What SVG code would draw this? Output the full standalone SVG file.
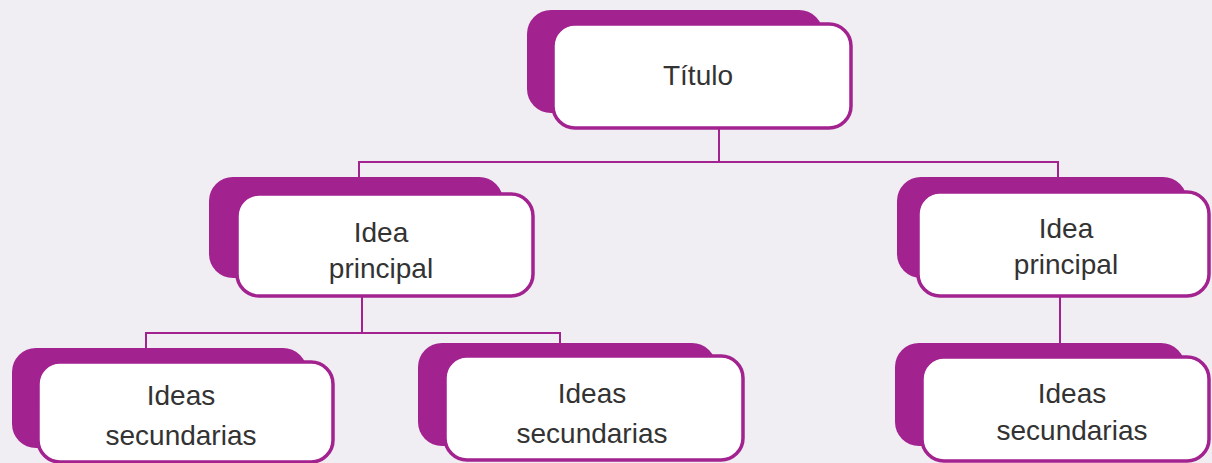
<svg xmlns="http://www.w3.org/2000/svg" width="1212" height="463" viewBox="0 0 1212 463">
<style>
.bg{fill:#F1EEF3}
.back{fill:#A2228F}
.front{fill:#FFFFFF;stroke:#A2228F;stroke-width:3.5}
.conn{fill:none;stroke:#A2228F;stroke-width:2}
text{font-family:"Liberation Sans",Arial,sans-serif;font-size:28px;fill:#333333;text-anchor:middle}
</style>
<rect class="bg" x="0" y="0" width="1212" height="463"/>
<g id="connectors">
<path class="conn" d="M719,128 V162 M359,178 V162 H1058 V178"/>
<path class="conn" d="M362,297 V333 M146,348 V333 H560 V344"/>
<path class="conn" d="M1060,297 V344"/>
</g>
<g id="titulo">
<rect class="back" x="527" y="10" width="296" height="103" rx="24"/>
<rect class="front" x="553" y="24" width="298" height="104" rx="22"/>
<text x="698" y="85">Título</text>
</g>
<g id="idea-principal-1">
<rect class="back" x="209" y="177" width="294" height="101" rx="24"/>
<rect class="front" x="237" y="194" width="296" height="102" rx="22"/>
<text x="381" y="242">Idea</text>
<text x="381" y="278">principal</text>
</g>
<g id="idea-principal-2">
<rect class="back" x="897" y="177" width="290" height="101" rx="24"/>
<rect class="front" x="918" y="192" width="291" height="104" rx="22"/>
<text x="1066" y="238">Idea</text>
<text x="1066" y="274">principal</text>
</g>
<g id="ideas-secundarias-1">
<rect class="back" x="12" y="348" width="295" height="100" rx="24"/>
<rect class="front" x="38" y="362" width="295" height="100" rx="22"/>
<text x="181" y="405">Ideas</text>
<text x="181" y="445">secundarias</text>
</g>
<g id="ideas-secundarias-2">
<rect class="back" x="418" y="343" width="298" height="103" rx="24"/>
<rect class="front" x="445" y="356" width="298" height="104" rx="22"/>
<text x="592" y="403">Ideas</text>
<text x="592" y="443">secundarias</text>
</g>
<g id="ideas-secundarias-3">
<rect class="back" x="895" y="343" width="290" height="103" rx="24"/>
<rect class="front" x="922" y="357" width="287" height="104" rx="22"/>
<text x="1072" y="403">Ideas</text>
<text x="1072" y="440">secundarias</text>
</g>
</svg>
